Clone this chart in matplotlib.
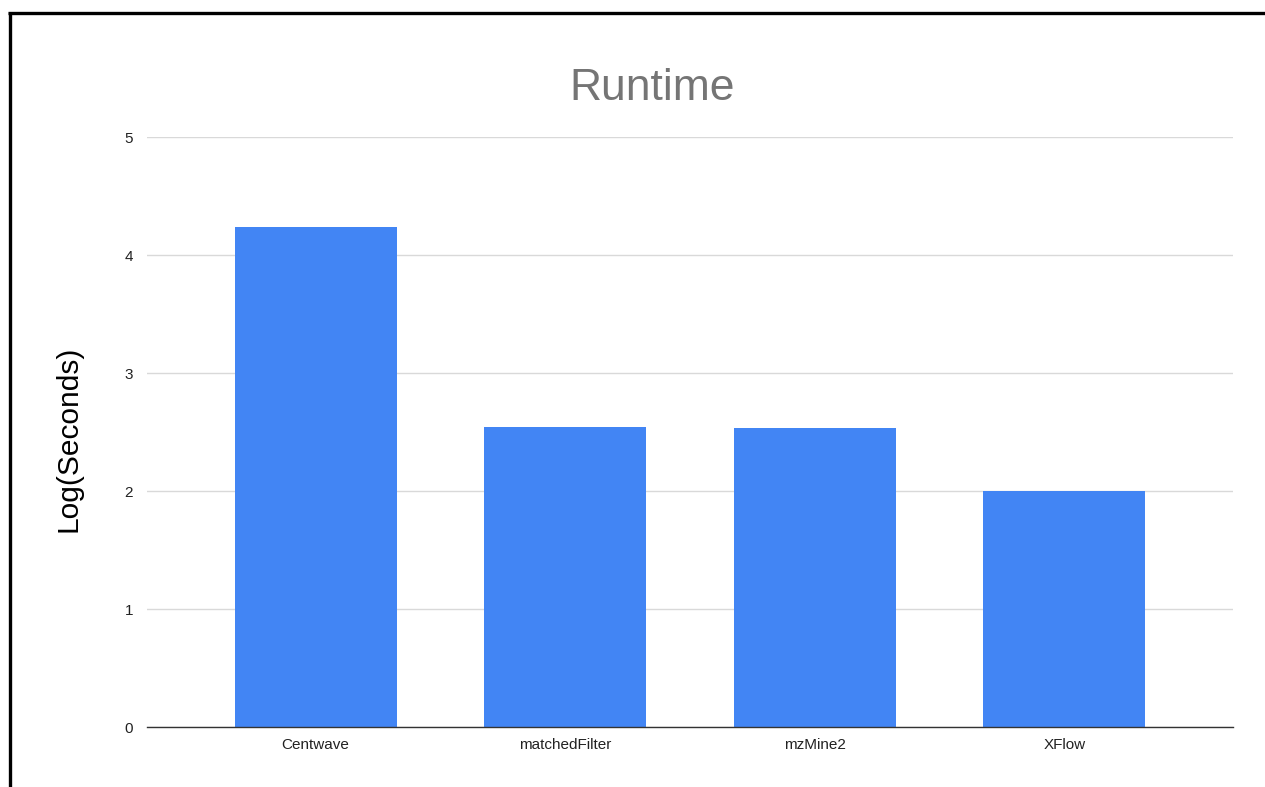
import matplotlib.pyplot as plt
from matplotlib.lines import Line2D

plt.rcParams['font.family'] = ['Liberation Sans', 'DejaVu Sans']

methods = ["Centwave", "matchedFilter", "mzMine2", "XFlow"]
log_seconds = [4.24, 2.54, 2.53, 2.00]
yticks = [0, 1, 2, 3, 4, 5]

fig = plt.figure(figsize=(12.65, 7.87), dpi=100)
ax = fig.add_axes([0.1162, 0.0762, 0.8585, 0.7497])

x = range(len(methods))
ax.bar(x, log_seconds, width=0.648, color='#4285F4', zorder=3)

ax.set_xlim(-0.676, len(methods) - 1 + 0.676)
ax.set_ylim(0, 5)
ax.set_yticks(yticks)
ax.set_xticks(list(x))
ax.set_xticklabels(methods)
ax.tick_params(axis='both', length=0, labelsize=11, colors='#222222')
ax.tick_params(axis='y', pad=10)
ax.tick_params(axis='x', pad=8)

ax.grid(axis='y', color='#d9d9d9', linewidth=1.0, zorder=0)
for s in ['top', 'right', 'left']:
    ax.spines[s].set_visible(False)
ax.spines['bottom'].set_color('#333333')
ax.spines['bottom'].set_linewidth(1.0)
ax.spines['bottom'].set_zorder(4)

fig.text(0.5155, 0.888, "Runtime", ha='center', va='center', fontsize=32, color='#757575')
fig.text(0.054, 0.443, "Log(Seconds)", rotation=90, ha='center', va='center', fontsize=21.5, color='#000000')

# frame lines around the screenshot
fig.add_artist(Line2D([8 / 1265, 1.0], [1 - 12.5 / 787, 1 - 12.5 / 787], color='black', linewidth=2.4,
                      solid_capstyle='butt', transform=fig.transFigure))
fig.add_artist(Line2D([9.5 / 1265, 9.5 / 1265], [0, 1 - 11.5 / 787], color='black', linewidth=2.4,
                      solid_capstyle='butt', transform=fig.transFigure))

fig.savefig("out.png", dpi=100)
